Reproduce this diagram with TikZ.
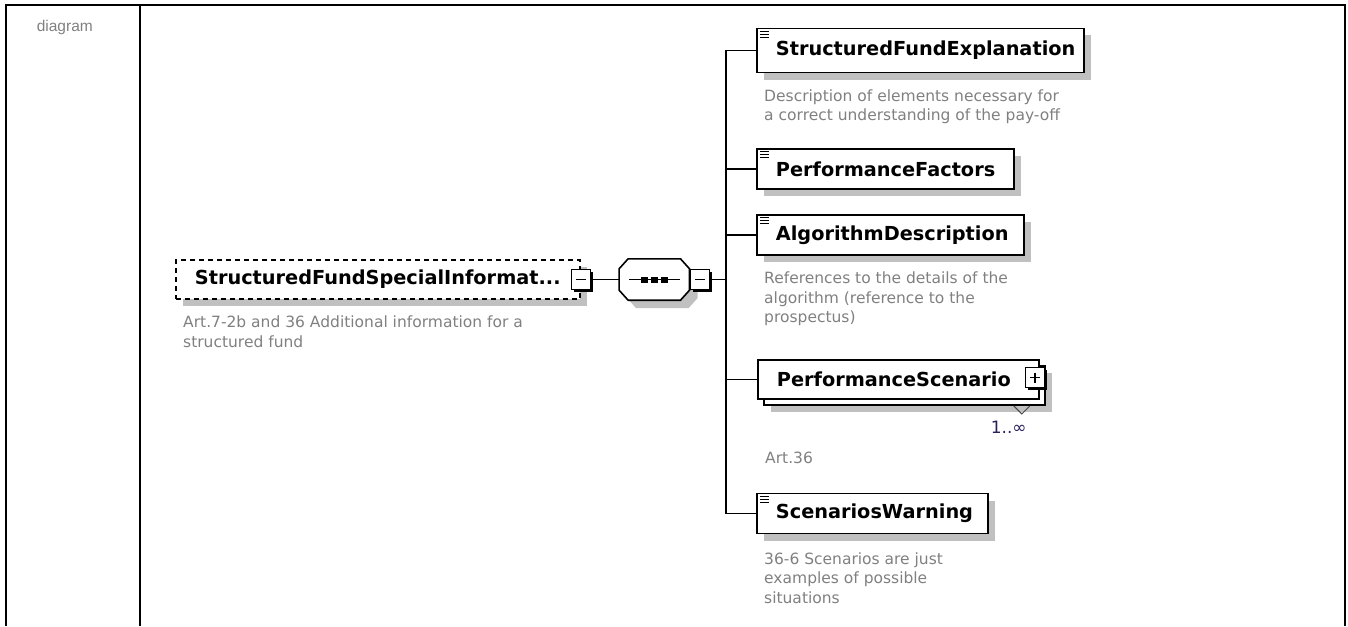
\documentclass[tikz,border=0pt]{standalone}
\usepackage{fontspec}
\setmainfont{DejaVu Sans}
\newfontfamily\sidefont{Liberation Sans}
\usepackage{tikz}
\usetikzlibrary{
  positioning,
  calc,
  shadows
}
\tikzset{
  every node/.style={inner sep=0pt}
}
\definecolor{descGray}{RGB}{128, 128, 128}
\definecolor{shadowGray}{RGB}{192, 192, 192}
\definecolor{multNavy}{RGB}{40, 32, 88}
\definecolor{markGray}{RGB}{70, 70, 70}
\newcommand{\namefont}{\fontsize{19.3}{22}\selectfont\bfseries}
\newcommand{\descfont}{\fontsize{15.5}{19.5}\selectfont}

\begin{document}
\begin{tikzpicture}[
    x=1pt, y=-1pt,
    frame/.style={draw=black, line width=2.2pt},
    conn/.style={draw=black, line width=1.8pt},
    dropgray/.style={drop shadow={shadow xshift=#1, shadow yshift=-#1, fill=shadowGray, opacity=1}},
    elembox/.style={rectangle, draw=black, line width=1.8pt, fill=white, anchor=west, align=left, inner xsep=10pt, font=\namefont, execute at begin node={\hspace*{9pt}\hyphenpenalty=10000\relax}},
    elem/.style={elembox, text width=#1, minimum height=40pt, dropgray=7pt},
    multielem/.style={elembox, text width=#1, minimum height=39pt, dropgray=13pt, copy shadow={shadow xshift=6pt, shadow yshift=-6pt, fill=white, draw=black, line width=1.8pt}},
    desc/.style={font=\descfont, text=descGray, align=left},
    tog/.style={rectangle, draw=black, line width=1.6pt, fill=white, minimum width=19pt, minimum height=20pt, drop shadow={shadow xshift=2.5pt, shadow yshift=-2.5pt, fill=black, opacity=1}},
    seqbox/.style={rectangle, minimum width=70pt, minimum height=41pt}
]

\useasboundingbox (0,0) rectangle (1348,626);

\draw[frame] (6,626) -- (6,5) -- (1345,5) -- (1345,626);
\draw[frame] (140,5) -- (140,626);
\node[font=\sidefont\fontsize{15.5}{18}\selectfont, text=descGray, anchor=base east] (diaglabel) at (93,32) {diagram};

% root element
\node[elembox, dashed, dash pattern=on 5pt off 4pt, text width=384pt, minimum height=39pt, dropgray=7pt] (root) at (175,279.5) {StructuredFundSpecialInformat...};
\node[tog] (rootminus) at (root.east) {};
\draw[line width=1.5pt] ($(rootminus.center)+(-5,0)$) -- ++(10,0);
\node[desc, below=16pt of root.south west, anchor=north west, xshift=8pt] (rootdesc) {Art.7-2b and 36 Additional information for a\\structured fund};

% sequence
\node[seqbox, right=28pt of rootminus] (seq) {};
\draw[conn, line width=1.6pt, fill=white, dropgray=8pt] ($(seq.north west)+(9,0)$) -- ($(seq.north east)+(-9,0)$) -- ($(seq.north east)+(0,10)$) -- ($(seq.south east)+(0,-10)$) -- ($(seq.south east)+(-9,0)$) -- ($(seq.south west)+(9,0)$) -- ($(seq.south west)+(0,-10)$) -- ($(seq.north west)+(0,10)$) -- cycle;
\draw[line width=1.5pt] ($(seq.west)+(10,0)$) -- ($(seq.east)+(-10,0)$);
\foreach \dx in {-10,0,10}
  \fill ($(seq.center)+(\dx-3.5,-3)$) rectangle ($(seq.center)+(\dx+3.5,3)$);
\node[tog, right=0pt of seq] (seqminus) {};
\draw[line width=1.5pt] ($(seqminus.center)+(-5,0)$) -- ++(10,0);
\draw[conn] (rootminus.east) -- (seq.west);

\coordinate (bus) at (726,279.5);

% children
\node[elem=307pt, minimum height=44pt] (sfe) at (756,50.5) {StructuredFundExplanation};
\node[desc, below=16pt of sfe.south west, anchor=north west, xshift=8pt] (sfedesc) {Description of elements necessary for\\a correct understanding of the pay-off};
\node[elem=237pt] (pf) at (756,169) {PerformanceFactors};
\node[elem=247pt] (ad) at (756,235) {AlgorithmDescription};
\node[desc, below=16pt of ad.south west, anchor=north west, xshift=8pt] (addesc) {References to the details of the\\algorithm (reference to the\\prospectus)};
\node[multielem=261pt] (ps) at (757,379.5) {PerformanceScenario};
\node[tog] (pstog) at ($(ps.east)+(-5,-2)$) {};
\draw[line width=1.5pt] ($(pstog.center)+(-5,0)$) -- ++(10,0) ($(pstog.center)+(0,-5)$) -- ++(0,10);
\draw[markGray, line width=1pt] ($(ps.south east)+(-26,6)$) -- ++(8,8) -- ++(8,-8);
\node[font=\fontsize{17}{20}\selectfont, text=multNavy, anchor=east] (psmult) at ($(ps.south east)+(-13,27.5)$) {1..∞};
\node[desc, below=52pt of ps.south west, anchor=north west, xshift=8pt] (psdesc) {Art.36};
\node[elem=211pt] (sw) at (756,513.5) {ScenariosWarning};
\node[desc, below=18pt of sw.south west, anchor=north west, xshift=8pt] (swdesc) {36-6 Scenarios are just\\examples of possible\\situations};

\foreach \n in {sfe,pf,ad,sw}
  \foreach \dy in {3.5,6.5,9.5}
    \draw[line width=1.1pt] ($(\n.north west)+(4,\dy)$) -- ++(8.5,0);

% connectors
\draw[conn] (seqminus.east) -- (bus);
\draw[conn] (sfe.west) -| (bus) |- (sw.west);
\foreach \n in {pf,ad,ps}
  \draw[conn] (bus |- \n.west) -- (\n.west);

\end{tikzpicture}
\end{document}
